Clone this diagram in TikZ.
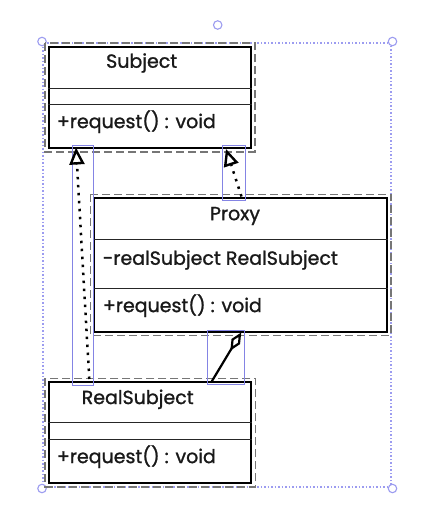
\documentclass[tikz,border=0pt]{standalone}
\usepackage{fontspec}
\setmainfont{Poppins}[FakeBold=1.2]
\usetikzlibrary{arrows.meta,calc}
\definecolor{selblue}{HTML}{9C9CF0}
\definecolor{boxblue}{HTML}{8484E4}
\definecolor{dashgray}{HTML}{767676}
\tikzset{
  cls/.style={draw=black, line width=2.2pt, minimum width=202.6pt, inner sep=0pt},
  divider/.style={draw=black!85, line width=1pt},
  selbox/.style={draw=dashgray, line width=1.6pt, dash pattern=on 8pt off 4pt},
  hit/.style={draw=boxblue, line width=0.9pt},
  selframe/.style={draw=selblue, line width=1.2pt, dash pattern=on 1.5pt off 2pt},
  handle/.style={draw=selblue, line width=1.1pt, fill=white, circle, minimum size=8.5pt, inner sep=0pt},
  txt/.style={font=\fontsize{19}{22}\selectfont, inner sep=0pt, text=black!90},
  dep/.style={draw=black, line width=2.5pt, dash pattern=on 2.5pt off 5.5pt},
  gen/.style={draw=black, line width=2.4pt, -{Triangle[open, length=17pt, width=15pt, line width=2.4pt]}},
  agg/.style={draw=black, line width=2.2pt, -{Diamond[open, length=21pt, width=10pt]}}
}
\begin{document}
\begin{tikzpicture}[x=1pt, y=-1pt]
\useasboundingbox (0,0) rectangle (440,525);
% selection frame
\draw[selframe] (43,43) rectangle (391,487);
\node[handle] (h0) at (217.7,25) {};
\node[handle] (h1) at (42,41.5) {};
\node[handle] (h2) at (392.5,41.5) {};
\node[handle] (h3) at (42,488.5) {};
\node[handle] (h4) at (392.5,488.5) {};
% dashed selection boxes
\draw[selbox] (45,43) rectangle (255,151.7);
\draw[selbox] (90.3,194.3) rectangle (391,335.3);
\draw[selbox] (45,378.3) rectangle (255.3,486.7);
% classes
\node[cls, minimum height=101pt] (subj) at (150,97.2) {};
\draw[divider] (subj.west |- 0,88.3) -- (subj.east |- 0,88.3);
\draw[divider] (subj.west |- 0,104) -- (subj.east |- 0,104);
\node[txt] (subjname) at (141.7,63) {Subject};
\node[txt, anchor=west] (subjop) at (56.7,121.7) {+request() : void};

\node[cls, minimum width=293pt, minimum height=133.4pt] (proxy) at (240.5,265) {};
\draw[divider] (proxy.west |- 0,239) -- (proxy.east |- 0,239);
\draw[divider] (proxy.west |- 0,288) -- (proxy.east |- 0,288);
\node[txt] (proxyname) at (235,216) {Proxy};
\node[txt, anchor=west] (proxyattr) at (102.7,260) {-realSubject RealSubject};
\node[txt, anchor=west] (proxyop) at (102.7,305.7) {+request() : void};

\node[cls, minimum height=101.6pt] (real) at (150,432.5) {};
\draw[divider] (real.west |- 0,422.7) -- (real.east |- 0,422.7);
\draw[divider] (real.west |- 0,439) -- (real.east |- 0,439);
\node[txt] (realname) at (137.7,399.3) {RealSubject};
\node[txt, anchor=west] (realop) at (56.7,456.7) {+request() : void};

% connector endpoints
\coordinate (a1) at (89.3,379);
\coordinate (a2) at (76,147.5);
\coordinate (b1) at (241.5,196.5);
\coordinate (b2) at (226,149);
\coordinate (c1) at (211.7,381.5);
\coordinate (c2) at (241.2,332.5);
\coordinate (a3) at ($(a2)!17pt!(a1)$);
\coordinate (b3) at ($(b2)!17pt!(b1)$);
% connector hit boxes
\draw[hit] (72.7,145.3) rectangle (93.3,385.3);
\draw[hit] (222.7,145.3) rectangle (245,200.7);
\draw[hit] (207.7,330) rectangle (244.3,384.3);
% connectors
\draw[dep] (a1) -- (a3);
\draw[gen] (a3) -- (a2);
\draw[dep] (b1) -- (b3);
\draw[gen] (b3) -- (b2);
\draw[agg] (c1) -- (c2);
\end{tikzpicture}
\end{document}
